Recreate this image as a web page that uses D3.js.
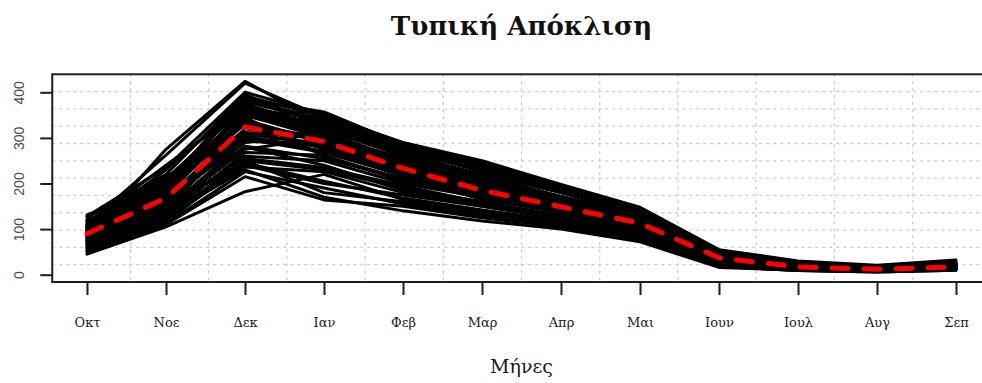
<!DOCTYPE html>
<html>
<head>
<meta charset="utf-8">
<script src="https://cdn.jsdelivr.net/npm/d3@7"></script>
<style>
  body { margin: 0; background: #fff; }
  svg { display: block; }
</style>
</head>
<body>
<svg id="chart" width="982" height="383"></svg>
<script>
// Months of the hydrological year (October to September)
const months = ["Οκτ", "Νοε", "Δεκ", "Ιαν", "Φεβ", "Μαρ", "Απρ", "Μαι", "Ιουν", "Ιουλ", "Αυγ", "Σεπ"];
const yTickValues = [0, 100, 200, 300, 400];

// Mean standard deviation per month (red dashed line)
const meanValues = [90, 168, 324, 292, 233, 185, 149, 113, 37, 17, 12, 17];

// Standard deviation per month for each individual member (black lines)
const members = [
  [131, 197, 388, 350, 290, 250, 198, 148, 55, 30, 21, 32],
  [81, 275, 424, 330, 270, 230, 185, 140, 50, 26, 18, 28],
  [110, 262, 420, 345, 280, 240, 190, 135, 48, 24, 16, 26],
  [45, 105, 182, 220, 165, 140, 110, 80, 20, 10, 7, 11],
  [50, 110, 215, 164, 150, 125, 105, 76, 18, 9, 6, 10],
  [60, 130, 230, 170, 140, 118, 100, 72, 16, 10, 7, 12],
  [95, 180, 385, 357, 285, 245, 195, 145, 52, 25, 17, 24],
  [100, 200, 375, 320, 260, 220, 180, 130, 45, 22, 15, 22],
  [85, 150, 350, 300, 250, 200, 160, 120, 40, 18, 12, 18],
  [90, 160, 340, 290, 240, 195, 155, 118, 38, 17, 11, 16],
  [80, 145, 250, 230, 190, 160, 130, 100, 30, 14, 10, 14],
  [75, 140, 260, 250, 200, 170, 140, 105, 32, 15, 10, 15],
  [105, 190, 330, 300, 230, 180, 150, 115, 40, 18, 12, 19],
  [115, 210, 370, 310, 245, 190, 150, 110, 36, 16, 11, 17],
  [70, 125, 300, 280, 220, 175, 145, 110, 35, 16, 11, 16],
  [88, 170, 320, 295, 235, 185, 150, 115, 37, 17, 12, 17],
  [92, 175, 345, 260, 210, 170, 140, 108, 34, 16, 11, 16],
  [98, 185, 360, 330, 270, 210, 165, 125, 42, 19, 13, 20],
  [65, 120, 240, 200, 175, 150, 125, 95, 28, 13, 9, 13],
  [78, 150, 310, 285, 225, 180, 148, 112, 36, 17, 12, 18],
  [102, 230, 380, 335, 275, 225, 180, 135, 46, 22, 14, 22],
  [84, 165, 290, 310, 250, 200, 160, 120, 38, 18, 12, 17],
  [110, 240, 365, 340, 280, 235, 185, 138, 47, 21, 14, 21],
  [55, 115, 250, 180, 160, 135, 115, 85, 24, 12, 8, 12],
  [125, 220, 395, 325, 265, 215, 170, 128, 44, 20, 13, 20],
  [72, 135, 280, 240, 185, 155, 128, 98, 30, 14, 9, 14],
  [96, 195, 355, 305, 255, 205, 162, 122, 39, 18, 12, 18],
  [86, 158, 335, 275, 215, 165, 138, 106, 33, 15, 10, 15],
  [118, 205, 372, 318, 262, 215, 172, 130, 44, 21, 14, 22],
  [62, 128, 268, 262, 205, 168, 135, 102, 31, 14, 9, 13],
  [108, 198, 392, 348, 278, 228, 182, 138, 48, 23, 15, 24],
  [82, 152, 305, 270, 228, 188, 152, 116, 37, 17, 11, 17],
  [94, 172, 358, 315, 248, 198, 158, 119, 39, 18, 12, 18],
  [68, 138, 236, 226, 180, 150, 122, 92, 27, 12, 8, 12],
  [104, 186, 382, 342, 268, 218, 170, 126, 43, 20, 13, 19],
  [90, 162, 312, 300, 238, 186, 150, 114, 36, 16, 11, 16],
  [58, 122, 255, 235, 195, 158, 126, 96, 29, 13, 9, 13],
  [112, 215, 310, 285, 232, 182, 146, 110, 35, 16, 11, 16],
  [76, 142, 275, 300, 245, 195, 155, 117, 37, 17, 11, 17],
  [120, 180, 368, 328, 258, 208, 166, 124, 41, 19, 13, 19],
  [66, 132, 245, 205, 168, 142, 118, 88, 25, 12, 8, 12],
  [100, 168, 298, 268, 218, 176, 142, 109, 34, 16, 10, 16],
  [87, 148, 282, 255, 210, 172, 140, 106, 33, 15, 10, 15],
  [128, 235, 400, 352, 286, 238, 188, 142, 50, 24, 16, 25],
  [52, 112, 226, 190, 155, 130, 108, 78, 19, 9, 6, 10],
  [97, 178, 365, 296, 242, 192, 154, 117, 38, 17, 12, 17],
  [73, 143, 292, 288, 232, 184, 148, 112, 35, 16, 11, 16],
  [106, 208, 348, 312, 252, 202, 160, 121, 40, 19, 12, 19]
];

const svg = d3.select("#chart");

// Month index 1..12 on x, standard deviation on y
const x = d3.scaleLinear().domain([1, 12]).range([87, 956]);
const y = d3.scaleLinear().domain([0, 400]).range([274.7, 92.3]);

// Plot region in data units (range padded on both sides)
const xLo = 0.56, xHi = 12.44, yLo = -16, yHi = 439.5;
const plotLeft = x(xLo), plotRight = x(xHi), plotTop = y(yHi), plotBottom = y(yLo);

svg.append("rect").attr("width", 982).attr("height", 383).attr("fill", "#fff");

// Dotted grid: the plot region split into 12 equal parts each way
const grid = svg.append("g")
  .attr("stroke", "#cdcdcd")
  .attr("stroke-width", 1.3)
  .attr("stroke-dasharray", "3 4");
d3.range(1, 12).forEach(k => {
  const gx = x(xLo + k * (xHi - xLo) / 12);
  const gy = y(yLo + k * (yHi - yLo) / 12);
  grid.append("line").attr("x1", gx).attr("x2", gx).attr("y1", plotTop).attr("y2", plotBottom);
  grid.append("line").attr("x1", plotLeft).attr("x2", plotRight).attr("y1", gy).attr("y2", gy);
});

const line = d3.line().x((d, i) => x(i + 1)).y(d => y(d));

// Individual members
svg.append("g")
  .selectAll("path")
  .data(members)
  .join("path")
  .attr("d", line)
  .attr("fill", "none")
  .attr("stroke", "#000")
  .attr("stroke-width", 3)
  .attr("stroke-linejoin", "round")
  .attr("stroke-linecap", "round");

// Mean line
svg.append("path")
  .datum(meanValues)
  .attr("d", line)
  .attr("fill", "none")
  .attr("stroke", "#ff0000")
  .attr("stroke-width", 5)
  .attr("stroke-dasharray", "16 16")
  .attr("stroke-linecap", "round")
  .attr("stroke-linejoin", "round");

// Frame
svg.append("rect")
  .attr("x", plotLeft).attr("y", plotTop)
  .attr("width", plotRight - plotLeft).attr("height", plotBottom - plotTop)
  .attr("fill", "none")
  .attr("stroke", "#1e1e1e")
  .attr("stroke-width", 2);

// Y axis
const yAxis = svg.append("g")
  .attr("transform", `translate(${plotLeft},0)`)
  .call(d3.axisLeft(y).tickValues(yTickValues).tickSize(12).tickSizeOuter(0));
yAxis.select(".domain").remove();
yAxis.selectAll(".tick line").attr("stroke", "#1e1e1e").attr("stroke-width", 2);
yAxis.selectAll(".tick text")
  .attr("x", null).attr("dy", null)
  .attr("transform", `translate(${24 - plotLeft},0) rotate(-90)`)
  .attr("text-anchor", "middle")
  .attr("fill", "#4a4a4a")
  .style("font-family", "'Liberation Sans', Arial, sans-serif")
  .style("font-size", "14px");

// X axis
const xAxis = svg.append("g")
  .attr("transform", `translate(0,${plotBottom + 1})`)
  .call(d3.axisBottom(x).tickValues(d3.range(1, 13)).tickFormat(i => months[i - 1]).tickSize(12).tickSizeOuter(0));
xAxis.select(".domain").remove();
xAxis.selectAll(".tick line").attr("stroke", "#1e1e1e").attr("stroke-width", 2);
xAxis.selectAll(".tick text")
  .attr("y", 327 - plotBottom - 1).attr("dy", null)
  .attr("fill", "#1a1a1a")
  .style("font-family", "'DejaVu Serif', 'Liberation Serif', serif")
  .style("font-size", "13px");

// Title
svg.append("text")
  .attr("x", (plotLeft + plotRight) / 2).attr("y", 35)
  .attr("text-anchor", "middle")
  .style("font-family", "'DejaVu Serif', 'Liberation Serif', serif")
  .style("font-weight", "bold")
  .style("font-size", "26px")
  .attr("fill", "#111")
  .text("Τυπική Απόκλιση");

// X axis label
svg.append("text")
  .attr("x", (plotLeft + plotRight) / 2).attr("y", 373)
  .attr("text-anchor", "middle")
  .style("font-family", "'DejaVu Serif', 'Liberation Serif', serif")
  .style("font-size", "19px")
  .attr("fill", "#1a1a1a")
  .text("Μήνες");
</script>
</body>
</html>
